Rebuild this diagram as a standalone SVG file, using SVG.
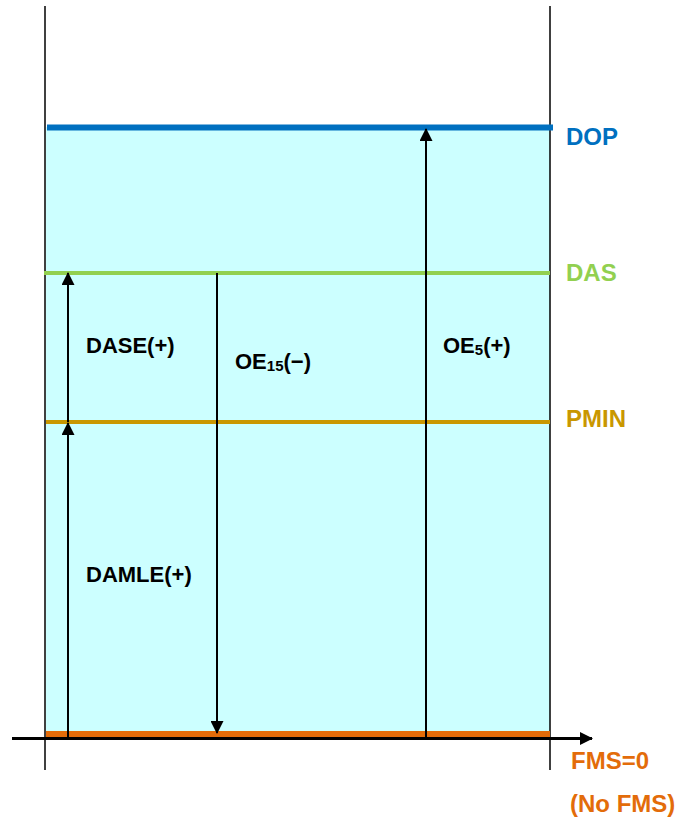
<svg xmlns="http://www.w3.org/2000/svg" width="682" height="822" viewBox="0 0 682 822">
<style>
text{font-family:"Liberation Sans",Arial,sans-serif;font-weight:bold}
.in{font-size:22px;fill:#000}
.lab{font-size:24px}
.conn{stroke:#000;stroke-width:2;fill:none}
</style>
<defs>
<marker id="ah" viewBox="0 0 13 13" refX="12" refY="6.5" markerWidth="13" markerHeight="13" markerUnits="userSpaceOnUse" orient="auto">
<path d="M0,0 L13,6.5 L0,13 Z" fill="#000"/>
</marker>
</defs>
<rect x="46" y="127" width="504" height="611" fill="#CCFFFF"/>
<line x1="45" y1="6" x2="45" y2="770" stroke="#000" stroke-width="1.5"/>
<line x1="550" y1="6" x2="550" y2="770" stroke="#000" stroke-width="1.5"/>
<g id="dop"><line x1="47" y1="127.5" x2="553" y2="127.5" stroke="#0070C0" stroke-width="6"/><text class="lab" x="566" y="145" fill="#0070C0">DOP</text></g>
<g id="das"><line x1="44" y1="273" x2="550" y2="273" stroke="#92D050" stroke-width="4"/><text class="lab" x="566" y="281" fill="#92D050">DAS</text></g>
<g id="pmin"><line x1="46" y1="422" x2="550" y2="422" stroke="#C99700" stroke-width="4"/><text class="lab" x="566" y="427" fill="#C99700">PMIN</text></g>
<g id="fms"><line x1="46" y1="734" x2="550" y2="734" stroke="#E36C0A" stroke-width="6"/><text class="lab" x="571" y="769" fill="#E36C0A">FMS=0</text><text class="lab" x="570" y="812" fill="#E36C0A">(No FMS)</text></g>
<g id="connectors">
<line x1="12" y1="738.5" x2="592" y2="738.5" stroke="#000" stroke-width="3" marker-end="url(#ah)"/>
<line class="conn" x1="68" y1="738" x2="68" y2="423" marker-end="url(#ah)"/>
<line class="conn" x1="68" y1="422" x2="68" y2="273" marker-end="url(#ah)"/>
<line class="conn" x1="217" y1="273" x2="217" y2="733" marker-end="url(#ah)"/>
<line class="conn" x1="426" y1="738" x2="426" y2="129" marker-end="url(#ah)"/>
</g>
<g id="labels">
<text class="in" x="86" y="353">DASE(+)</text>
<text class="in" x="86" y="582">DAMLE(+)</text>
<text class="in" x="235" y="369">OE<tspan font-size="15" dy="2">15</tspan><tspan dy="-2">(−)</tspan></text>
<text class="in" x="443" y="353">OE<tspan font-size="15" dy="2">5</tspan><tspan dy="-2">(+)</tspan></text>
</g>
</svg>
